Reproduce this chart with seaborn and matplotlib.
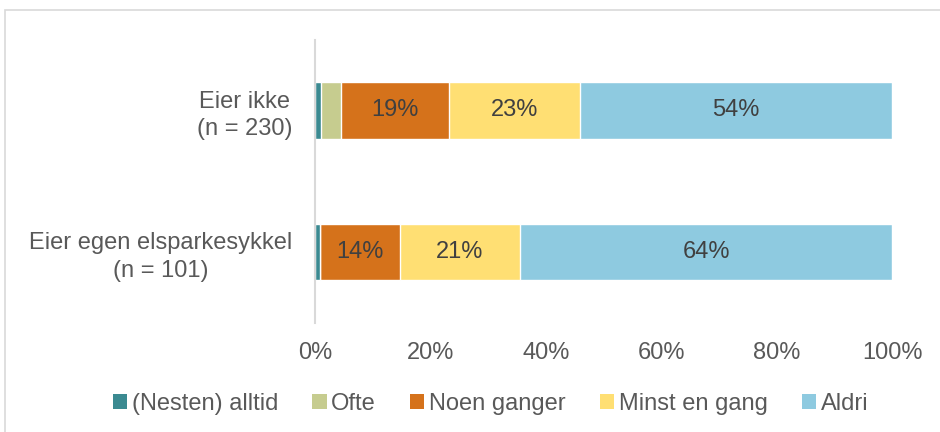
import numpy as np
import pandas as pd
import matplotlib.pyplot as plt
import seaborn as sns
from matplotlib.patches import Patch, Rectangle

# Data (andeler i prosent, lest av figuren)
grupper = ['Eier ikke\n(n = 230)', 'Eier egen elsparkesykkel\n(n = 101)']
svar = ['(Nesten) alltid', 'Ofte', 'Noen ganger', 'Minst en gang', 'Aldri']
alltid = [1.0, 0.8]
ofte = [3.6, 0.0]
noen = [18.6, 13.9]
minst = [22.7, 20.9]
aldri = [54.1, 64.4]
farger = ['#3B8A91', '#C6CC8F', '#D5721B', '#FFDF73', '#8ECAE0']

df = pd.DataFrame({s: v for s, v in zip(svar, [alltid, ofte, noen, minst, aldri])}, index=grupper)
cum = df.cumsum(axis=1)

sns.set_style("white")
plt.rcParams['font.family'] = ['Liberation Sans', 'DejaVu Sans']

fig = plt.figure(figsize=(9.4, 4.32), dpi=100)
ax = fig.add_axes([0.335, 0.253, 0.614, 0.655])

# Stablede stolper: tegn kumulative summer bakfra
for s, farge in reversed(list(zip(svar, farger))):
    sns.barplot(x=cum[s].values, y=grupper, order=grupper, color=farge,
                saturation=1, width=0.4, orient='h', ax=ax)

# Verdietiketter i stolpene
for j, g in enumerate(grupper):
    for s in svar:
        v = df.loc[g, s]
        if v >= 10:
            ax.text(cum.loc[g, s] - v / 2, j, f"{round(v)}%", ha='center', va='center',
                    fontsize=17, color='#404040')

ax.set_xlim(0, 100)
ax.set_xticks(range(0, 101, 20))
ax.set_xticklabels([f"{t}%" for t in range(0, 101, 20)])
ax.set_xlabel('')
ax.set_ylabel('')
ax.tick_params(axis='x', length=0, pad=14, labelsize=17, labelcolor='#595959')
ax.tick_params(axis='y', length=0, pad=16, labelsize=17, labelcolor='#595959')
for lab in ax.get_yticklabels():
    lab.set_multialignment('center')
    lab.set_linespacing(1.3)

for side in ['top', 'right', 'bottom']:
    ax.spines[side].set_visible(False)
ax.spines['left'].set_color('#D9D9D9')
ax.spines['left'].set_linewidth(1.5)

handles = [Patch(facecolor=f, edgecolor='none', label=s) for s, f in zip(svar, farger)]
fig.legend(handles=handles, loc='center', bbox_to_anchor=(0.522, 0.065), ncol=5,
           frameon=False, fontsize=17, labelcolor='#595959', handlelength=0.6,
           handleheight=0.6, handletextpad=0.2, columnspacing=1.45)

# Ramme rundt diagrammet
fig.patches.append(Rectangle((0.005, -0.1), 1.2, 1.077, transform=fig.transFigure,
                             fill=False, edgecolor='#D9D9D9', linewidth=1.2))

fig.savefig('out.png', dpi=100)
